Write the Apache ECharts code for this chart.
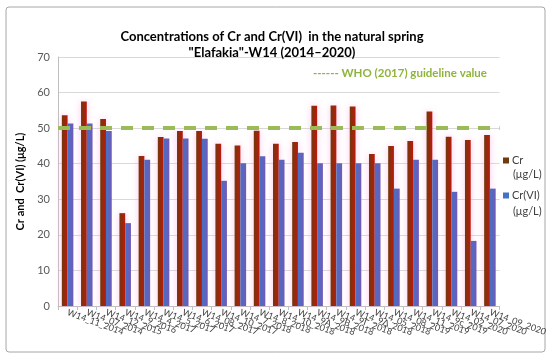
<!DOCTYPE html>
<html>
<head>
<meta charset="utf-8">
<script src="https://cdn.jsdelivr.net/npm/echarts@6/dist/echarts.min.js"></script>
<style>html,body{margin:0;padding:0;background:#fff;}#c{width:550px;height:358px;}</style>
</head>
<body>
<div id="c"></div>
<script>
var categories = ["W14_11_2014","W14_07_2014","W14_12_2015","W14_9_2016","W14_4_2017","W14_5_2017","W14_6_2017","W14_08_2017","W14_10_2017","W14_7_2018","W14_8_2018","W14_10_2018","W14_9A_2018","W14_9B_2018","W14_9Γ_2018","W14_9Δ_2018","W14_05_2018","W14_08_2019","W14_11_2019","W14_9c_2019","W14_02_2020","W14_07_2020","W14_09_2020"];
var crValues = [53.6,57.5,52.6,26.1,42.2,47.5,49.2,49.2,45.6,45.1,49.3,45.6,46.1,56.3,56.4,56.1,42.7,45.0,46.4,54.7,47.6,46.7,48.1];
var cr6Values = [51.3,51.3,49.2,23.3,41.1,47.1,47.1,47.0,35.2,40.1,42.1,41.1,43.1,40.1,40.1,40.1,40.1,33.0,41.1,41.1,32.1,18.3,33.0];
var whoLimit = 50;
var yTicks = {min: 0, max: 70, interval: 10};

var chart = echarts.init(document.getElementById('c'), null, {renderer: 'canvas'});
var FONT = 'Lato, "Open Sans", sans-serif';
chart.setOption({
  backgroundColor: '#ffffff',
  animation: false,
  graphic: [
    {type: 'rect', shape: {x: 6, y: 7, width: 539, height: 345, r: 3}, style: {fill: 'none', stroke: '#a6a6a6', lineWidth: 1}, z: -10},
    {type: 'text', left: 313, top: 67, style: {text: '------ WHO (2017) guideline value', fill: '#8fb43c', font: 'bold 11.5px ' + FONT}},
    {type: 'text', left: 513, top: 169, style: {text: '(\u03bcg/L)', fill: '#404040', font: '11px ' + FONT}},
    {type: 'text', left: 513, top: 206, style: {text: '(\u03bcg/L)', fill: '#404040', font: '11px ' + FONT}}
  ],
  title: {
    text: 'Concentrations of Cr and Cr(VI)  in the natural spring\n"Elafakia"-W14 (2014\u20132020)',
    left: 267, top: 24, textAlign: 'center',
    textStyle: {fontFamily: FONT, fontWeight: 'bold', fontSize: 13, lineHeight: 16, color: '#000'}
  },
  legend: {
    orient: 'vertical', left: 503, top: 155, itemWidth: 6, itemHeight: 6, itemGap: 24,
    icon: 'rect', padding: 0,
    textStyle: {fontFamily: FONT, fontSize: 11, color: '#404040', padding: [0, 0, 0, -2]},
    data: [{name: 'Cr', itemStyle: {color: '#6f3a0c'}}, {name: 'Cr(VI)', itemStyle: {color: '#4472c4'}}]
  },
  grid: {left: 58, right: 49, top: 57, bottom: 52},
  xAxis: {
    type: 'category', data: categories,
    axisLine: {lineStyle: {color: '#bfbfbf'}},
    axisTick: {show: true, lineStyle: {color: '#bfbfbf'}, length: 4},
    axisLabel: {rotate: -20, fontFamily: FONT, fontSize: 9, color: '#404040', margin: 6, interval: 0}
  },
  yAxis: {
    type: 'value', min: yTicks.min, max: yTicks.max, interval: yTicks.interval,
    name: 'Cr and  Cr(VI) (\u03bcg/L)', nameLocation: 'middle', nameGap: 32,
    nameTextStyle: {fontFamily: FONT, fontWeight: 'bold', fontSize: 11, color: '#000'},
    axisLine: {show: true, lineStyle: {color: '#bfbfbf'}},
    axisLabel: {fontFamily: FONT, fontSize: 11, color: '#595959', margin: 8},
    splitLine: {lineStyle: {color: '#d9d9d9'}}
  },
  series: [
    {
      name: 'Cr', type: 'bar', data: crValues, barWidth: '30%', barGap: '0%',
      itemStyle: {
        color: new echarts.graphic.LinearGradient(0, 0, 1, 0, [{offset: 0, color: '#6e3a0b'}, {offset: 1, color: '#c0170b'}]),
        shadowColor: 'rgba(255,160,225,0.6)', shadowBlur: 7
      },
      markLine: {
        silent: true, symbol: 'none', label: {show: false},
        lineStyle: {color: '#9bbb59', type: [12, 9], width: 4},
        data: [{yAxis: whoLimit}]
      }
    },
    {
      name: 'Cr(VI)', type: 'bar', data: cr6Values, barWidth: '30%',
      itemStyle: {
        color: new echarts.graphic.LinearGradient(0, 0, 1, 0, [{offset: 0, color: '#4472c4'}, {offset: 1, color: '#7458b8'}])
      }
    }
  ]
});
</script>
</body>
</html>
